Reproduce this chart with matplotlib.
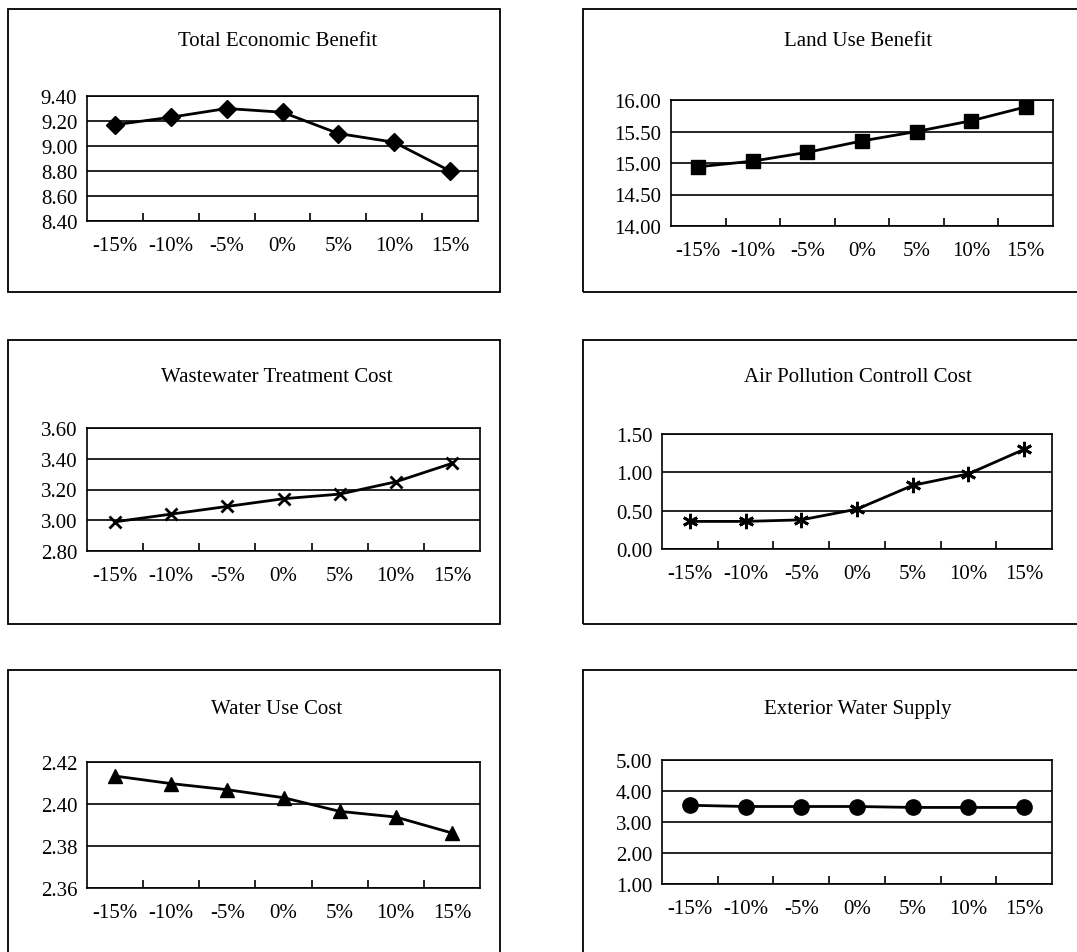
import matplotlib
matplotlib.use("Agg")
import matplotlib.pyplot as plt
from matplotlib.patches import Rectangle
from matplotlib.ticker import FormatStrFormatter, MultipleLocator

plt.rcParams['font.family'] = ['Liberation Serif', 'DejaVu Serif']

# data
categories = ['-15%', '-10%', '-5%', '0%', '5%', '10%', '15%']

total_economic_benefit = [9.17, 9.23, 9.30, 9.27, 9.10, 9.03, 8.80]
land_use_benefit = [14.94, 15.03, 15.17, 15.35, 15.50, 15.67, 15.89]
wastewater_cost = [2.99, 3.04, 3.09, 3.14, 3.17, 3.25, 3.37]
air_pollution_cost = [0.36, 0.36, 0.38, 0.52, 0.83, 0.98, 1.30]
water_use_cost = [2.4133, 2.4097, 2.4068, 2.4030, 2.3965, 2.3938, 2.3862]
exterior_water_supply = [3.54, 3.50, 3.50, 3.50, 3.47, 3.47, 3.47]

titles = ['Total Economic Benefit', 'Land Use Benefit',
          'Wastewater Treatment Cost', 'Air Pollution Controll Cost',
          'Water Use Cost', 'Exterior Water Supply']
series = [total_economic_benefit, land_use_benefit, wastewater_cost,
          air_pollution_cost, water_use_cost, exterior_water_supply]
y_ranges = [(8.40, 9.40, 0.20), (14.00, 16.00, 0.50), (2.80, 3.60, 0.20),
            (0.00, 1.50, 0.50), (2.36, 2.42, 0.02), (1.00, 5.00, 1.00)]
markers = [('D', 9, 1), ('s', 10, 1), ('x', 9, 2),
           ((6, 2, 0), 11, 2), ('^', 10, 1), ('o', 11, 1)]

# layout in pixels (left, top, right, bottom)
W, H = 1077, 953
boxes = [(8, 10, 500, 293), (583, 10, 1095, 293),
         (8, 341, 500, 625), (583, 341, 1095, 625),
         (8, 671, 500, 965), (583, 671, 1095, 965)]
axes_px = [(87, 97, 478, 222), (671, 101, 1053, 227),
           (87, 429, 480, 552), (662, 435, 1052, 550),
           (87, 763, 480, 889), (662, 761, 1052, 885)]
title_px = [(278, 42), (858, 42), (277, 378), (858, 378), (277, 710), (858, 710)]


def px_rect(l, t, r, b):
    return [l / W, 1 - b / H, (r - l) / W, (b - t) / H]


fig = plt.figure(figsize=(W / 100, H / 100), dpi=100)
fig.patch.set_facecolor('white')

for i in range(6):
    l, t, r, b = boxes[i]
    fig.patches.append(Rectangle((l / W, 1 - b / H), (r - l) / W, (b - t) / H,
                                 transform=fig.transFigure, fill=False,
                                 edgecolor='black', linewidth=1.3, clip_on=False))
    tx, ty = title_px[i]
    fig.text(tx / W, 1 - ty / H, titles[i], ha='center', va='center', fontsize=15)

    ax = fig.add_axes(px_rect(*axes_px[i]))
    x = list(range(len(categories)))
    m, ms, mew = markers[i]
    ax.plot(x, series[i], color='black', linewidth=2, marker=m, markersize=ms,
            markeredgewidth=mew, markerfacecolor='black', markeredgecolor='black',
            zorder=5, clip_on=False)

    lo, hi, step = y_ranges[i]
    ax.set_ylim(lo, hi)
    ax.yaxis.set_major_locator(MultipleLocator(step))
    ax.yaxis.set_major_formatter(FormatStrFormatter('%.2f'))
    ax.set_xlim(-0.5, len(categories) - 0.5)
    ax.set_xticks(x)
    ax.set_xticklabels(categories)
    ax.set_xticks([k + 0.5 for k in range(len(categories) - 1)], minor=True)

    ax.tick_params(axis='x', which='major', length=0, pad=11, labelsize=15)
    ax.tick_params(axis='x', which='minor', direction='in', length=6, width=1.2)
    ax.tick_params(axis='y', length=0, pad=7, labelsize=15)

    ax.grid(axis='y', color='black', linewidth=1.2)
    ax.set_axisbelow(True)
    for s in ax.spines.values():
        s.set_linewidth(1.2)

fig.savefig('out.png', dpi=100, facecolor='white')
